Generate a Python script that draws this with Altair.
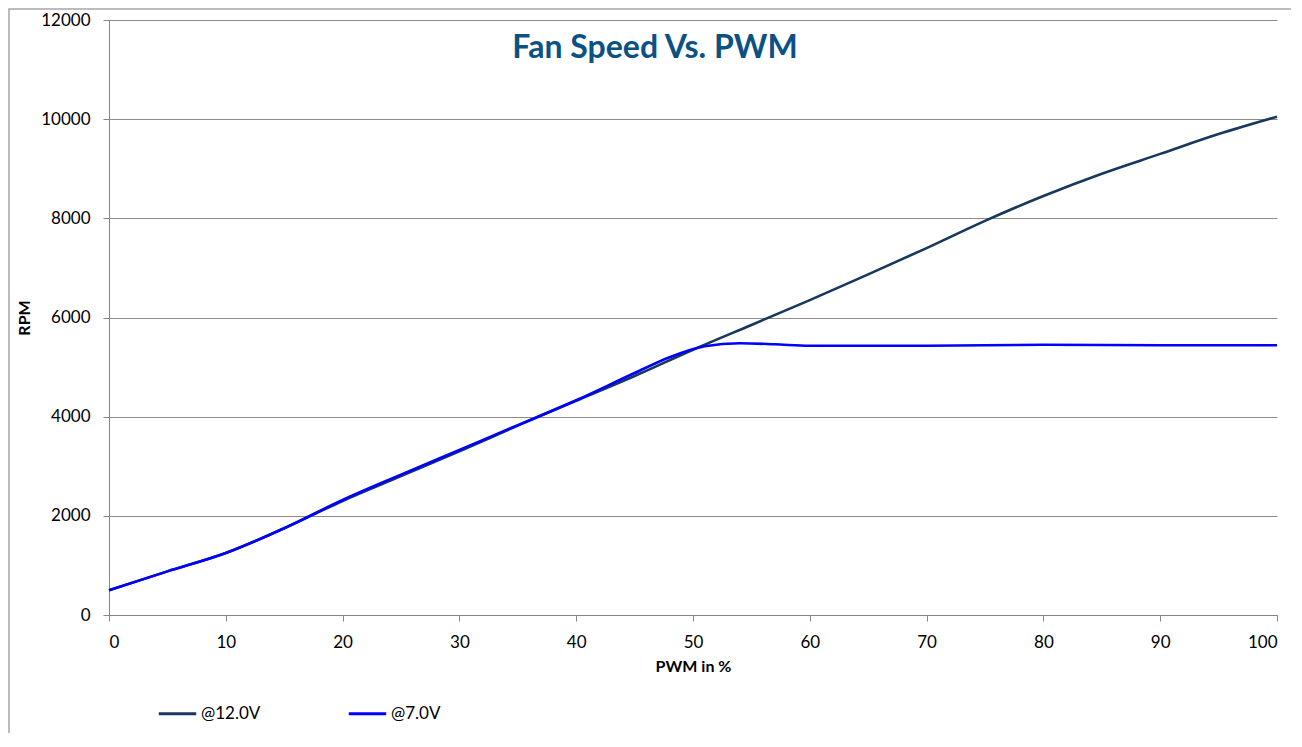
import altair as alt
import pandas as pd

pwm_12 = [0, 5, 10, 15, 20, 25, 30, 35, 40, 45, 50, 55, 60, 65, 70, 75, 80, 85, 90, 95, 100]
rpm_12 = [500, 880, 1250, 1750, 2300, 2800, 3300, 3820, 4320, 4820, 5350, 5850, 6350,
          6870, 7400, 7950, 8450, 8900, 9300, 9700, 10050]

pwm_7 = [0, 5, 10, 15, 20, 25, 30, 35, 40, 45, 48, 51, 54, 57, 60, 70, 80, 90, 100]
rpm_7 = [500, 880, 1250, 1750, 2320, 2830, 3330, 3830, 4330, 4880, 5200, 5420, 5480,
         5460, 5430, 5430, 5450, 5440, 5440]

series_names = ["@12.0V", "@7.0V"]
series_colors = ["#17375E", "#0000FF"]

df = pd.concat([
    pd.DataFrame({"pwm": pwm_12, "rpm": rpm_12, "series": series_names[0], "order": 0}),
    pd.DataFrame({"pwm": pwm_7, "rpm": rpm_7, "series": series_names[1], "order": 1}),
])

FONT = "Lato"
W, H = 1168, 595

x_scale = alt.Scale(domain=[0, 100], nice=False, zero=False)
y_scale = alt.Scale(domain=[0, 12000], nice=False)

lines = alt.Chart(df).mark_line(strokeWidth=2.6, interpolate="monotone").encode(
    x=alt.X("pwm:Q", scale=x_scale,
            axis=alt.Axis(title="PWM in %", values=list(range(0, 101, 10)), grid=False,
                          format="d",
                          domainColor="#868686", tickColor="#868686", tickSize=6,
                          labelFontSize=17, labelColor="#000000", labelFont=FONT,
                          titleFont=FONT, titleFontSize=16, titleFontWeight="bold",
                          titleColor="#000000", labelPadding=13, titlePadding=8)),
    y=alt.Y("rpm:Q", scale=y_scale,
            axis=alt.Axis(title="RPM", values=list(range(0, 12001, 2000)), grid=True,
                          format="d",
                          gridColor="#8C8C8C", gridWidth=1.2,
                          domainColor="#868686", tickColor="#868686", tickSize=6,
                          labelFontSize=17, labelColor="#000000", labelFont=FONT,
                          titleFont=FONT, titleFontSize=16, titleFontWeight="bold",
                          titleColor="#000000", labelPadding=13, titlePadding=8)),
    color=alt.Color("series:N", scale=alt.Scale(domain=series_names, range=series_colors),
                    legend=alt.Legend(title=None, orient="none", legendX=48, legendY=673,
                                      direction="horizontal", symbolType="stroke",
                                      symbolStrokeWidth=2.8, symbolSize=1400,
                                      labelFont=FONT, labelFontSize=17, labelColor="#000000",
                                      columnPadding=82, labelOffset=3)),
    order="order:Q",
)

title = alt.Chart(pd.DataFrame({"t": ["Fan Speed Vs. PWM"]})).mark_text(
    font=FONT, fontSize=32, fontWeight="bold", color="#0B5283", align="center",
    baseline="middle",
).encode(text="t:N", x=alt.value(546), y=alt.value(28))

frame = alt.Chart(pd.DataFrame({"a": [0]})).mark_rect(
    fill=None, stroke="#A6A6A6", strokeWidth=1.5, clip=False,
).encode(x=alt.value(-100), x2=alt.value(1300), y=alt.value(-11), y2=alt.value(900))

chart = alt.layer(frame, lines, title).properties(
    width=W, height=H,
    autosize=alt.AutoSizeParams(type="none"),
    padding={"left": 101, "top": 12, "right": 14, "bottom": 118},
).configure_view(stroke=None)

chart.save("out.html", embed_options={"renderer": "svg", "actions": False})
